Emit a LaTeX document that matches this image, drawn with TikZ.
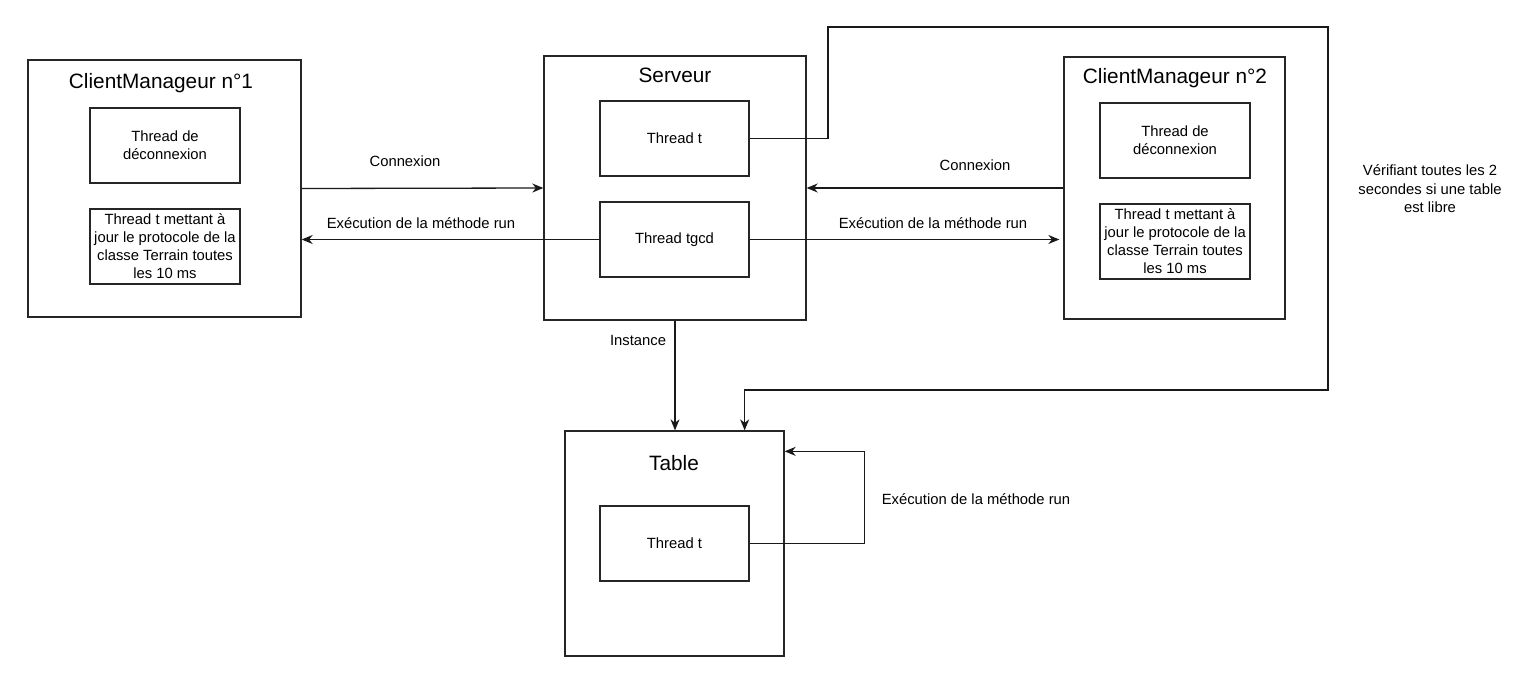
\documentclass[tikz,border=0pt]{standalone}
\usepackage{fontspec}
\setmainfont{Liberation Sans}
\usetikzlibrary{arrows.meta}
\begin{document}
\begin{tikzpicture}[x=1pt,y=-1pt,
  box/.style={draw=black!85,line width=1.3pt,inner sep=0pt,anchor=center,align=center,font=\fontsize{14.8}{18}\selectfont},
  ttl/.style={inner sep=0pt,font=\fontsize{20.8}{24}\selectfont},
  lbl/.style={inner sep=0pt,align=center,font=\fontsize{14.8}{18.5}\selectfont},
  arr/.style={draw=black!90,line width=1.3pt,-{Stealth[length=11pt,width=9pt,inset=3.5pt]}}]
\useasboundingbox[fill=white] (0,0) rectangle (1525,685);
% boxes
\node[box,minimum width=273pt,minimum height=257pt] (cm1) at (164.5,188.5) {};
\node[box,minimum width=150pt,minimum height=75pt] (cm1a) at (165,145.5) {Thread de\\déconnexion};
\node[box,minimum width=150pt,minimum height=75pt] (cm1b) at (165,246.5) {Thread t mettant à\\jour le protocole de la\\classe Terrain toutes\\les 10 ms};
\node[box,minimum width=262pt,minimum height=264pt] (serveur) at (675,188) {};
\node[box,minimum width=149pt,minimum height=75pt] (tt) at (674.5,138.5) {Thread t};
\node[box,minimum width=149pt,minimum height=75pt] (tgcd) at (674.5,239.5) {Thread tgcd};
\node[box,minimum width=221pt,minimum height=262pt] (cm2) at (1174.5,188) {};
\node[box,minimum width=150pt,minimum height=75pt] (cm2a) at (1175,140.5) {Thread de\\déconnexion};
\node[box,minimum width=150pt,minimum height=75pt] (cm2b) at (1175,241.5) {Thread t mettant à\\jour le protocole de la\\classe Terrain toutes\\les 10 ms};
\node[box,minimum width=219pt,minimum height=225pt] (table) at (674.5,543.5) {};
\node[box,minimum width=149pt,minimum height=75pt] (tth) at (674.5,543.5) {Thread t};
% titles
\node[ttl] (t1) at (161,83) {ClientManageur n°1};
\node[ttl] (t2) at (675,75) {Serveur};
\node[ttl] (t3) at (1175,78) {ClientManageur n°2};
\node[ttl] (t4) at (674,463) {Table};
% connectors
\draw[arr] (cm1.east) -- (serveur.west);
\draw[arr] (tgcd.west) -- (cm1.east |- tgcd.west);
\draw[arr] (cm2.west) -- (serveur.east);
\draw[arr] (tgcd.east) -- ([xshift=-4pt]cm2.west |- tgcd.east);
\draw[arr] (serveur.south) -- (serveur.south |- table.north);
\draw[arr] (tt.east) -| (828,27) -| (1328,390) -| ([xshift=-40pt]table.north east);
\draw[arr] (tth.east) -- ++(115,0) |- ([yshift=-21pt]table.north east);
% labels
\node[lbl] (l1) at (405,161) {Connexion};
\node[lbl] (l2) at (421,223) {Exécution de la méthode run};
\node[lbl] (l3) at (975,165) {Connexion};
\node[lbl] (l4) at (933,223) {Exécution de la méthode run};
\node[lbl] (l5) at (638,340) {Instance};
\node[lbl] (l6) at (1430,189) {Vérifiant toutes les 2\\secondes si une table\\est libre};
\node[lbl] (l7) at (976,499) {Exécution de la méthode run};
\end{tikzpicture}
\end{document}
